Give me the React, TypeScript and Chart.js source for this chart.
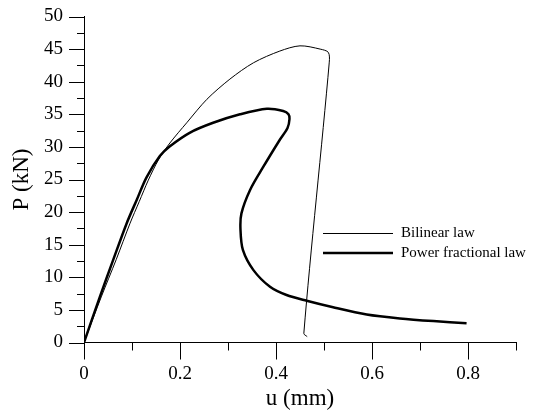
import React, { useEffect, useRef } from 'react';
import { Chart, registerables } from 'chart.js';

Chart.register(...registerables);

// Bilinear law (thin line)
const bilinearU = [0, 0.036, 0.067, 0.096, 0.115, 0.134, 0.155, 0.179, 0.214, 0.256, 0.304, 0.353, 0.408, 0.45, 0.492, 0.509, 0.511, 0.458, 0.465];
const bilinearP = [0, 7.0, 12.7, 18.3, 21.6, 24.9, 28.0, 30.6, 33.7, 37.3, 40.4, 42.9, 44.7, 45.5, 45.0, 44.5, 43.0, 1.4, 0.9];

// Power fractional law (thick line)
const powerU = [0, 0.033, 0.061, 0.089, 0.11, 0.13, 0.158, 0.179, 0.221, 0.269, 0.325, 0.381, 0.415, 0.426, 0.428, 0.424, 0.408, 0.374, 0.346, 0.328, 0.326, 0.331, 0.353, 0.3875, 0.422, 0.464, 0.519, 0.589, 0.658, 0.728, 0.797];
const powerP = [0, 7.0, 12.7, 18.3, 21.9, 25.3, 28.6, 30.1, 32.2, 33.7, 35.0, 35.85, 35.5, 35.0, 34.2, 32.9, 31.1, 27.0, 23.4, 19.8, 17.3, 14.2, 11.1, 8.55, 7.28, 6.4, 5.4, 4.3, 3.69, 3.28, 2.97];

const seriesLabels = ['Bilinear law', 'Power fractional law'];
const xTickLabels = ['0', '0.2', '0.4', '0.6', '0.8'];
const yTickLabels = ['0', '5', '10', '15', '20', '25', '30', '35', '40', '45', '50'];
const xTitle = 'u (mm)';
const yTitle = 'P (kN)';

const SERIF = "'Liberation Serif', 'Times New Roman', serif";

const tickLegendPlugin = {
  id: 'tickLegend',
  afterDraw(chart: any) {
    const ctx = chart.ctx;
    const xs = chart.scales.x;
    const ys = chart.scales.y;
    const area = chart.chartArea;
    ctx.save();
    ctx.strokeStyle = '#000';
    ctx.lineWidth = 1;
    xs.ticks.forEach((t: any) => {
      const px = Math.round(xs.getPixelForValue(t.value)) + 0.5;
      const major = Math.round(t.value * 10) % 2 === 0;
      ctx.beginPath();
      ctx.moveTo(px, area.bottom);
      ctx.lineTo(px, area.bottom + (major ? 17 : 8));
      ctx.stroke();
    });
    ys.ticks.forEach((t: any) => {
      const py = Math.round(ys.getPixelForValue(t.value)) + 0.5;
      const major = Math.round(t.value / 2.5) % 2 === 0;
      ctx.beginPath();
      ctx.moveTo(area.left, py);
      ctx.lineTo(area.left - (major ? 15 : 7), py);
      ctx.stroke();
    });
    // legend
    const lx0 = 323;
    const lx1 = 393;
    const ly0 = 233.5;
    const dy = 19.5;
    ctx.font = `15px ${SERIF}`;
    ctx.fillStyle = '#000';
    ctx.textBaseline = 'middle';
    ctx.textAlign = 'left';
    chart.data.datasets.forEach((ds: any, i: number) => {
      const y = ly0 + i * dy;
      ctx.lineWidth = ds.borderWidth;
      ctx.beginPath();
      ctx.moveTo(lx0, y);
      ctx.lineTo(lx1, y);
      ctx.stroke();
      ctx.fillText(ds.label, 401, y);
    });
    ctx.restore();
  },
};

export default function App() {
  const ref = useRef<HTMLCanvasElement | null>(null);
  useEffect(() => {
    if (!ref.current) return;
    const chart = new Chart(ref.current, {
      type: 'scatter',
      data: {
        datasets: [
          {
            label: seriesLabels[0],
            data: bilinearU.map((u, i) => ({ x: u, y: bilinearP[i] })),
            showLine: true,
            borderColor: '#000',
            backgroundColor: '#000',
            borderWidth: 1,
            pointRadius: 0,
            tension: 0.3,
            fill: false,
          },
          {
            label: seriesLabels[1],
            data: powerU.map((u, i) => ({ x: u, y: powerP[i] })),
            showLine: true,
            borderColor: '#000',
            backgroundColor: '#000',
            borderWidth: 2.5,
            pointRadius: 0,
            tension: 0.3,
            fill: false,
          },
        ],
      },
      options: {
        animation: false,
        responsive: false,
        layout: { padding: { top: 16.5, right: 17, bottom: 0, left: 0 } },
        plugins: { legend: { display: false }, tooltip: { enabled: false } },
        scales: {
          x: {
            type: 'linear',
            min: 0,
            max: 0.9,
            afterFit: (s: any) => { s.height = 67.5; },
            border: { display: true, color: '#000', width: 1 },
            grid: { display: false, drawTicks: true, tickLength: 20 },
            ticks: {
              stepSize: 0.1,
              autoSkip: false,
              maxRotation: 0,
              padding: 0,
              color: '#000',
              font: { family: SERIF, size: 19 },
              callback: (v: any) => {
                const i = Math.round(Number(v) * 10);
                return i % 2 === 0 ? (xTickLabels[i / 2] ?? '') : '';
              },
            },
            title: {
              display: true,
              text: xTitle,
              color: '#000',
              font: { family: SERIF, size: 23, lineHeight: 1 },
              padding: { top: 0, bottom: 0 },
            },
          },
          y: {
            type: 'linear',
            min: 0,
            max: 50,
            afterFit: (s: any) => { s.width = 84; },
            border: { display: true, color: '#000', width: 1 },
            grid: { display: false, drawTicks: true, tickLength: 21 },
            ticks: {
              stepSize: 2.5,
              autoSkip: false,
              padding: 0,
              color: '#000',
              font: { family: SERIF, size: 19 },
              callback: (v: any) => {
                const i = Math.round(Number(v) / 2.5);
                return i % 2 === 0 ? (yTickLabels[i / 2] ?? '') : '';
              },
            },
            title: {
              display: true,
              text: yTitle,
              color: '#000',
              font: { family: SERIF, size: 23, lineHeight: 1 },
              padding: { top: 10, bottom: 0 },
            },
          },
        },
      },
      plugins: [tickLegendPlugin],
    } as any);
    return () => chart.destroy();
  }, []);
  return (
    <div style={{ position: 'absolute', left: 0, top: 0, width: 533, height: 410, background: '#fff' }}>
      <canvas ref={ref} width={533} height={410} style={{ width: 533, height: 410 }} />
    </div>
  );
}
